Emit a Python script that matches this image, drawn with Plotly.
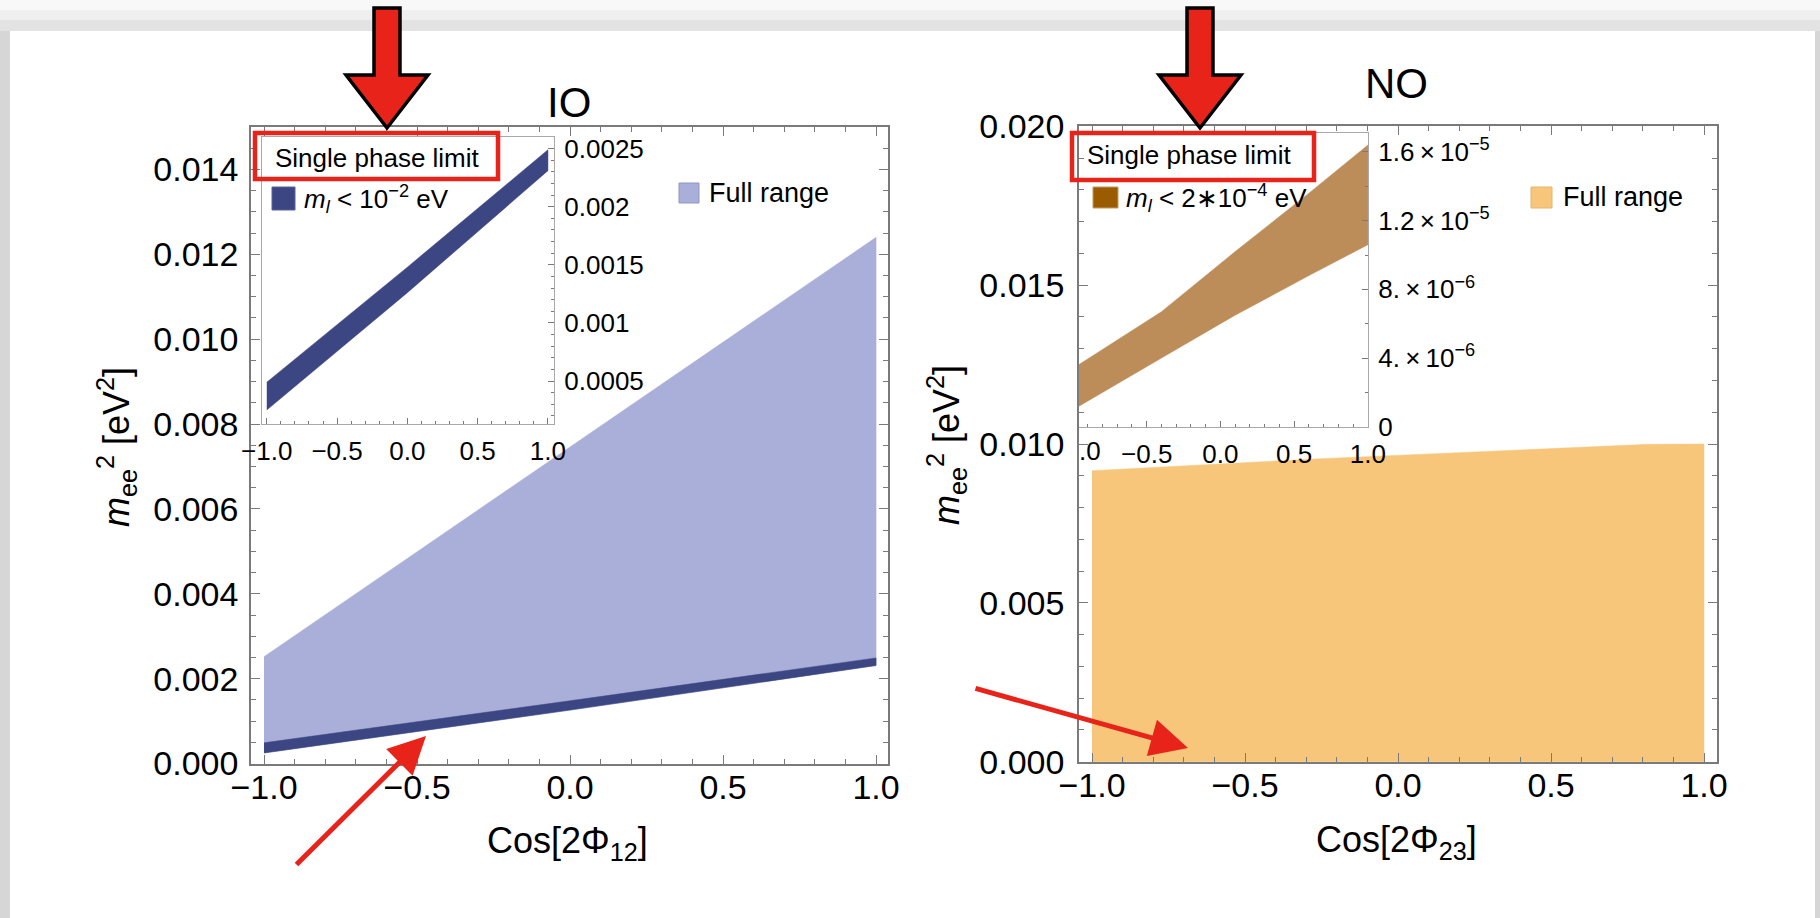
import plotly.graph_objects as go

# ---------------- data ----------------
# IO panel: Cos[2 Phi12]
io_full_x = [-1.0, 1.0]
io_full_upper = [0.00252, 0.0124]
io_band_x = [-1.0, 0.0, 1.0]
io_band_upper = [0.00049, 0.00148, 0.00249]
io_band_lower = [0.00025, 0.00126, 0.00231]

# NO panel: Cos[2 Phi23]
no_full_x = [-1.0, -0.27, 0.82, 1.0]
no_full_upper = [0.00916, 0.00953, 0.00999, 0.0100]
no_full_lower = [0.0, 0.0, 0.0, 0.0]
no_band_x = [-1.0, -0.4, 0.1, 0.6, 1.0]
no_band_upper = [3.4e-6, 6.7e-6, 10.2e-6, 13.6e-6, 16.4e-6]
no_band_lower = [1.0e-6, 4.0e-6, 6.5e-6, 8.8e-6, 10.6e-6]

io_inset_ytickvals = [0.0005, 0.001, 0.0015, 0.002, 0.0025]
io_inset_yticktext = ["0.0005", "0.001", "0.0015", "0.002", "0.0025"]
no_inset_ytickvals = [0.0, 4e-6, 8e-6, 1.2e-5, 1.6e-5]
no_inset_yticktext = ["0", "4.\u2009×\u200910<sup>−6</sup>", "8.\u2009×\u200910<sup>−6</sup>",
                      "1.2\u2009×\u200910<sup>−5</sup>", "1.6\u2009×\u200910<sup>−5</sup>"]

# ---------------- styling ----------------
W, H = 1820, 918
FONT = "Liberation Sans, Arial, Helvetica, sans-serif"
C_LIGHT = "#aaafd9"
C_DARK = "#3c4682"
C_ORANGE = "#f7c67a"
C_BROWN = "#bc8d58"
C_BROWN_SW = "#9b5c00"
RED = "#e8231a"
FRAME = "#7a7a7a"
INSET_FRAME = "#a8a8a8"


def fx(px):
    return px / W


def fy(py):
    return 1 - py / H


fig = go.Figure()

fig.add_trace(go.Scatter(
    x=io_full_x + io_band_x[::-1],
    y=io_full_upper + io_band_lower[::-1],
    fill="toself", fillcolor=C_LIGHT, mode="lines",
    line=dict(width=0.5, color=C_LIGHT), name="Full range",
    showlegend=False, hoverinfo="skip", xaxis="x", yaxis="y"))
fig.add_trace(go.Scatter(
    x=io_band_x + io_band_x[::-1],
    y=io_band_upper + io_band_lower[::-1],
    fill="toself", fillcolor=C_DARK, mode="lines",
    line=dict(width=0.5, color=C_DARK), name="m_l < 1e-2 eV",
    showlegend=False, hoverinfo="skip", xaxis="x", yaxis="y"))
fig.add_trace(go.Scatter(
    x=io_band_x + io_band_x[::-1],
    y=io_band_upper + io_band_lower[::-1],
    fill="toself", fillcolor=C_DARK, mode="lines",
    line=dict(width=0.5, color=C_DARK), name="m_l < 1e-2 eV (inset)",
    showlegend=False, hoverinfo="skip", xaxis="x2", yaxis="y2"))
fig.add_trace(go.Scatter(
    x=no_full_x + no_full_x[::-1],
    y=no_full_upper + no_full_lower[::-1],
    fill="toself", fillcolor=C_ORANGE, mode="lines",
    line=dict(width=0.5, color=C_ORANGE), name="Full range",
    showlegend=False, hoverinfo="skip", xaxis="x3", yaxis="y3"))
fig.add_trace(go.Scatter(
    x=no_band_x + no_band_x[::-1],
    y=no_band_upper + no_band_lower[::-1],
    fill="toself", fillcolor=C_BROWN, mode="lines",
    line=dict(width=0.5, color=C_BROWN), name="m_l < 2e-4 eV",
    showlegend=False, hoverinfo="skip", xaxis="x4", yaxis="y4"))


def main_axis(domain, rng, dtick, minor_dtick, fmt, anchor, standoff):
    return dict(
        domain=domain, range=rng, anchor=anchor, automargin=False,
        showline=True, linecolor=FRAME, linewidth=1.5, mirror="allticks",
        ticks="inside", ticklen=9, tickwidth=1.3, tickcolor=FRAME,
        tick0=0, dtick=dtick, tickformat=fmt,
        minor=dict(dtick=minor_dtick, tick0=0, ticks="inside", ticklen=5,
                   tickwidth=1, tickcolor=FRAME),
        showgrid=False, zeroline=False,
        tickfont=dict(family=FONT, size=34, color="black"),
        ticklabelstandoff=standoff, fixedrange=True)


def inset_x(domain, rng, anchor):
    return dict(
        domain=domain, range=rng, anchor=anchor, automargin=False,
        showline=True, linecolor=INSET_FRAME, linewidth=1.2, mirror=True,
        ticks="inside", ticklen=6, tickwidth=1, tickcolor=FRAME,
        tick0=0, dtick=0.5, tickformat=".1f",
        minor=dict(dtick=0.1, tick0=0, ticks="inside", ticklen=3, tickcolor=FRAME),
        showgrid=False, zeroline=False,
        tickfont=dict(family=FONT, size=26, color="black"),
        ticklabelstandoff=4, fixedrange=True)


def inset_y(domain, rng, anchor, vals, txt, minor_dtick, mirror):
    return dict(
        domain=domain, range=rng, anchor=anchor, side="right", automargin=False,
        showline=True, linecolor=INSET_FRAME, linewidth=1.2, mirror=mirror,
        ticks="inside", ticklen=6, tickwidth=1, tickcolor=FRAME,
        tickmode="array", tickvals=vals, ticktext=txt,
        minor=dict(tickmode="linear", dtick=minor_dtick, tick0=0, ticks="inside",
                   ticklen=3, tickcolor=FRAME),
        showgrid=False, zeroline=False,
        tickfont=dict(family=FONT, size=26, color="black"),
        ticklabelstandoff=4, fixedrange=True)


layout_axes = {}
layout_axes["xaxis"] = main_axis([fx(251), fx(888)], [-1.0425, 1.039], 0.5, 0.1, ".1f", "y", -8)
layout_axes["yaxis"] = main_axis([fy(764), fy(127)], [-0.00001, 0.015], 0.002, 0.0005, ".3f", "x", 4)
layout_axes["xaxis3"] = main_axis([fx(1079), fx(1717)], [-1.0425, 1.0425], 0.5, 0.1, ".1f", "y3", -8)
layout_axes["yaxis3"] = main_axis([fy(762), fy(126)], [-0.00001, 0.02001], 0.005, 0.001, ".3f", "x3", 6)
layout_axes["xaxis2"] = inset_x([fx(262), fx(554)], [-1.034, 1.043], "y2")
layout_axes["yaxis2"] = inset_y([fy(424), fy(137)], [0.00013, 0.0026], "x2",
                                io_inset_ytickvals, io_inset_yticktext, 0.0001, True)
layout_axes["xaxis4"] = inset_x([fx(1079), fx(1368)], [-0.959, 1.0005], "y4")
layout_axes["yaxis4"] = inset_y([fy(427), fy(133)], [-1e-8, 1.71e-5], "x4",
                                no_inset_ytickvals, no_inset_yticktext, 2e-6, False)

shapes = []
# page shadow (screenshot framing)
for y0, y1, col in [(0, 10, "#f8f8f8"), (10, 20, "#efefef"), (20, 31, "#e3e3e3")]:
    shapes.append(dict(type="rect", xref="paper", yref="paper", layer="below",
                       x0=0, x1=1, y0=fy(y1), y1=fy(y0),
                       fillcolor=col, line=dict(width=0)))
shapes.append(dict(type="rect", xref="paper", yref="paper", layer="below",
                   x0=0, x1=fx(10), y0=0, y1=fy(31),
                   fillcolor="#d6d6d6", line=dict(width=0)))
shapes.append(dict(type="rect", xref="paper", yref="paper", layer="below",
                   x0=fx(1815), x1=1, y0=0, y1=fy(31),
                   fillcolor="#d6d6d6", line=dict(width=0)))


def path(points):
    return "M " + " L ".join(f"{fx(px):.5f},{fy(py):.5f}" for px, py in points) + " Z"


# big top arrows
for cx in (387, 1200):
    pts = [(cx - 13, 8), (cx + 13, 8), (cx + 13, 75), (cx + 41, 75), (cx, 128),
           (cx - 41, 75), (cx - 13, 75)]
    shapes.append(dict(type="path", xref="paper", yref="paper", path=path(pts),
                       fillcolor=RED, line=dict(color="black", width=3.5)))

# red highlight boxes
for x0, x1, y0, y1 in [(255, 498, 133, 179), (1072, 1314, 133, 180)]:
    shapes.append(dict(type="rect", xref="paper", yref="paper",
                       x0=fx(x0), x1=fx(x1), y0=fy(y1), y1=fy(y0),
                       line=dict(color=RED, width=4.5), fillcolor="rgba(0,0,0,0)"))

# legend swatches
for (x0, x1, y0, y1, fill, edge) in [
        (679, 699, 183, 203, C_LIGHT, "#9097c8"),
        (272, 295, 187, 210, C_DARK, "#59629a"),
        (1093, 1118, 187, 208, C_BROWN_SW, "#c49a66"),
        (1531, 1552, 187, 208, C_ORANGE, "#e6b46c")]:
    shapes.append(dict(type="rect", xref="paper", yref="paper",
                       x0=fx(x0), x1=fx(x1), y0=fy(y1), y1=fy(y0),
                       fillcolor=fill, line=dict(color=edge, width=1)))

ann = []


def text(t, px, py, size, xanchor="left", yanchor="middle", angle=0):
    ann.append(dict(text=t, x=fx(px), y=fy(py), xref="paper", yref="paper",
                    showarrow=False, xanchor=xanchor, yanchor=yanchor,
                    textangle=angle,
                    font=dict(family=FONT, size=size, color="black")))


text("IO", 569, 102, 42, xanchor="center")
text("NO", 1396, 83, 42, xanchor="center")
text("Cos[2Φ<sub>12</sub>]", 567, 843, 36, xanchor="center")
text("Cos[2Φ<sub>23</sub>]", 1396, 842, 36, xanchor="center")
ytitle = "<i>m</i><sub>ee</sub><sup>2</sup> [eV<sup>2</sup>]"
text(ytitle, 116, 447, 36, xanchor="center", angle=-90)
text(ytitle, 946, 445, 36, xanchor="center", angle=-90)
text("Full range", 707, 193, 27)
text("Full range", 1561, 197, 27)
text("Single phase limit", 273, 158, 26)
text("Single phase limit", 1085, 155, 26)
text("<i>m</i><sub><i>l</i></sub> < 10<sup>−2</sup> eV", 302, 199, 26)
text("<i>m</i><sub><i>l</i></sub> < 2∗10<sup>−4</sup> eV", 1124, 198, 26)
text(".0", 1090, 451, 26, xanchor="center")

# thin red pointer arrows
for tip, tail in [((426, 736), (295, 866)), ((1188, 748), (974, 688))]:
    ann.append(dict(text="", x=fx(tip[0]), y=fy(tip[1]), xref="paper", yref="paper",
                    showarrow=True, arrowhead=2, arrowsize=1.5, arrowwidth=5,
                    arrowcolor=RED, ax=tail[0] - tip[0], ay=tail[1] - tip[1],
                    standoff=0))

fig.update_layout(
    template="none",
    width=W, height=H, autosize=False,
    margin=dict(l=0, r=0, t=0, b=0, pad=0, autoexpand=False),
    paper_bgcolor="white", plot_bgcolor="rgba(0,0,0,0)",
    showlegend=False,
    font=dict(family=FONT, color="black"),
    shapes=shapes, annotations=ann,
    **layout_axes)

fig.write_html(
    "out.html",
    config=dict(displayModeBar=False),
    post_script="document.body.style.margin='0';document.body.style.overflow='hidden';")
